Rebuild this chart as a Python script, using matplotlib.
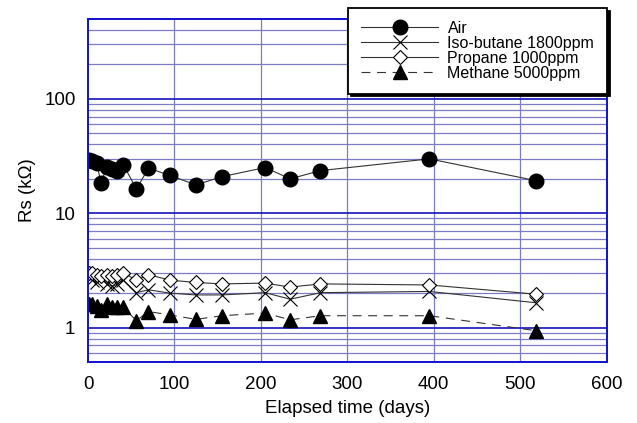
import numpy as np
import matplotlib.pyplot as plt
from matplotlib.ticker import FixedLocator, NullFormatter, NullLocator

plt.rcParams['font.family'] = ['Liberation Sans', 'DejaVu Sans']

# elapsed time (days) and sensor resistance (kOhm)
days = [1, 5, 10, 15, 22, 28, 34, 41, 56, 70, 95, 125, 155, 205, 234, 269, 395, 518]
air = [29, 28.5, 27.5, 18.5, 25.5, 24.5, 23.5, 26.5, 16.3, 24.8, 21.4, 17.7,
       20.9, 25.1, 20.0, 23.6, 29.9, 19.3]
isobutane = [2.8, 2.6, 2.5, 2.7, 2.4, 2.3, 2.4, 2.6, 2.02, 2.14, 2.0, 1.93,
             1.93, 2.02, 1.77, 2.02, 2.07, 1.65]
propane = [3.0, 3.0, 2.9, 2.8, 2.9, 2.8, 2.9, 3.0, 2.6, 2.9, 2.6, 2.48,
           2.41, 2.45, 2.26, 2.41, 2.36, 1.96]
methane = [1.62, 1.6, 1.55, 1.42, 1.6, 1.5, 1.52, 1.5, 1.15, 1.38, 1.29, 1.18,
           1.27, 1.34, 1.17, 1.27, 1.27, 0.94]

labels = ["Air", "Iso-butane 1800ppm", "Propane 1000ppm", "Methane 5000ppm"]
x_ticks = [0, 100, 200, 300, 400, 500, 600]

fig = plt.figure(figsize=(6.37, 4.23), dpi=100)
ax = fig.add_axes([88 / 637, 61 / 423, (606.5 - 88) / 637, (362 - 19) / 423])

ax.set_yscale('log')
ax.set_xlim(0, 600)
ax.set_ylim(0.5, 500)

# grille
minor_col = '#7c7cc4'
major_col = '#2424c0'
ax.set_axisbelow(True)
for x in x_ticks[1:-1]:
    ax.axvline(x, color=minor_col, lw=0.9, zorder=0)
minor_vals = [m * 10.0 ** e for e in range(-1, 3) for m in range(2, 10)]
for v in minor_vals:
    if 0.5 < v < 500:
        ax.axhline(v, color=minor_col, lw=0.9, zorder=0)
for v in [1, 10, 100]:
    ax.axhline(v, color=major_col, lw=1.3, zorder=0)

for sp in ax.spines.values():
    sp.set_color('#1010d0')
    sp.set_linewidth(1.4)

ax.plot(days, air, '-', color='#333333', lw=0.8, marker='o', ms=10.5,
        mfc='black', mec='black', label=labels[0])
ax.plot(days, isobutane, '-', color='#333333', lw=0.8, marker='x', ms=10.5,
        mew=0.8, mec='black', label=labels[1])
ax.plot(days, propane, '-', color='#333333', lw=0.8, marker='D', ms=7.5,
        mfc='white', mec='black', mew=0.8, label=labels[2])
ax.plot(days, methane, '--', color='#333333', lw=0.8, dashes=(8, 6), marker='^',
        ms=10.5, mfc='black', mec='black', label=labels[3])

ax.xaxis.set_major_locator(FixedLocator(x_ticks))
ax.yaxis.set_major_locator(FixedLocator([1, 10, 100]))
ax.yaxis.set_minor_locator(NullLocator())
ax.yaxis.set_major_formatter(plt.FuncFormatter(lambda v, p: f"{v:g}"))
ax.yaxis.set_minor_formatter(NullFormatter())
ax.tick_params(axis='both', length=0, labelsize=13.5)
ax.tick_params(axis='x', pad=10)
ax.tick_params(axis='y', pad=9)

ax.set_xlabel("Elapsed time (days)", fontsize=13.5, labelpad=5)
ax.set_ylabel("Rs (kΩ)", fontsize=13.5, labelpad=6)

leg = fig.legend(loc='upper right', bbox_to_anchor=(607 / 637, 1 - 8 / 423),
                 fontsize=11.5, handlelength=4.8, labelspacing=0.0,
                 handletextpad=0.6, borderpad=0.8, borderaxespad=0,
                 fancybox=False, framealpha=1, edgecolor='black',
                 shadow={'color': 'black', 'alpha': 1})
leg.get_frame().set_linewidth(1.3)

fig.savefig('out.png', dpi=100)
